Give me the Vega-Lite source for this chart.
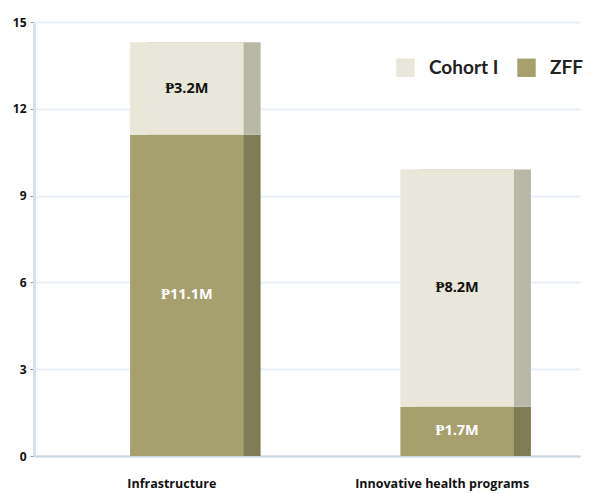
{
  "$schema": "https://vega.github.io/schema/vega-lite/v6.json",
  "width": 614,
  "height": 494,
  "autosize": {"type": "fit", "contains": "padding"},
  "padding": {"left": 12, "top": 16, "right": 34, "bottom": 4},
  "background": "white",
  "config": {"view": {"stroke": null}},
  "data": {"values": [
    {"category": "Infrastructure", "series": "ZFF", "value": 11.1, "label": "₱11.1M", "order": 1},
    {"category": "Infrastructure", "series": "Cohort I", "value": 3.2, "label": "₱3.2M", "order": 2},
    {"category": "Innovative health programs", "series": "ZFF", "value": 1.7, "label": "₱1.7M", "order": 1},
    {"category": "Innovative health programs", "series": "Cohort I", "value": 8.2, "label": "₱8.2M", "order": 2}
  ]},
  "encoding": {
    "x": {"field": "category", "type": "nominal", "sort": null,
      "scale": {"paddingInner": 0.58, "paddingOuter": 0.3},
      "axis": {"title": null, "labelAngle": 0, "labelFont": "Open Sans", "labelFontWeight": "bold", "labelFontSize": 12.5, "labelColor": "#111", "ticks": false, "domainColor": "#c9d6e3", "domainWidth": 2, "labelPadding": 21}}
  },
  "layer": [
    {
      "mark": {"type": "bar", "xOffset": 32},
      "encoding": {
        "y": {"field": "value", "type": "quantitative", "stack": "zero",
          "scale": {"domain": [0, 15], "nice": false},
          "axis": {"title": null, "values": [0, 3, 6, 9, 12, 15], "labelFont": "Open Sans", "labelFontWeight": "bold", "labelFontSize": 12, "labelColor": "#111", "tickColor": "#999", "tickSize": 4, "domainColor": "#d6e3ef", "domainWidth": 3, "gridColor": "#e9f0f7", "gridWidth": 2, "labelPadding": 4}},
        "order": {"field": "order"},
        "color": {"field": "series", "type": "nominal", "legend": null,
          "scale": {"domain": ["Cohort I", "ZFF"], "range": ["#b9b8a6", "#7f7b55"]}}
      }
    },
    {
      "mark": {"type": "bar", "xOffset": 15},
      "encoding": {
        "y": {"field": "value", "type": "quantitative", "stack": "zero"},
        "order": {"field": "order"},
        "color": {"field": "series", "type": "nominal",
          "scale": {"domain": ["Cohort I", "ZFF"], "range": ["#e8e7d9", "#a5a06e"]},
          "legend": {"title": null, "orient": "none", "legendX": 362, "legendY": 36, "direction": "horizontal",
            "symbolType": "square", "symbolSize": 340, "symbolStrokeWidth": 0, "labelFont": "Lato", "labelFontWeight": "bold", "labelFontSize": 19, "labelColor": "#222", "columnPadding": 18, "labelOffset": 14}}
      }
    },
    {
      "transform": [
        {"stack": "value", "groupby": ["category"], "sort": [{"field": "order"}], "as": ["v0", "v1"]},
        {"calculate": "(datum.v0 + datum.v1) / 2", "as": "mid"}
      ],
      "mark": {"type": "text", "xOffset": 15, "font": "Open Sans", "fontWeight": "bold", "fontSize": 14.5},
      "encoding": {
        "y": {"field": "mid", "type": "quantitative"},
        "text": {"field": "label"},
        "color": {"field": "series", "type": "nominal", "legend": null,
          "scale": {"domain": ["Cohort I", "ZFF"], "range": ["#111111", "#ffffff"]}}
      }
    }
  ],
  "resolve": {"scale": {"color": "independent"}}
}
